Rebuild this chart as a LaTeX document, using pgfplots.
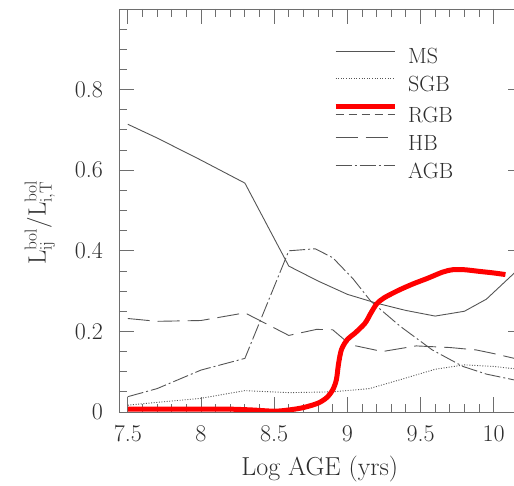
\documentclass[border=0pt]{standalone}
\usepackage{pgfplots}
\pgfplotsset{compat=1.18}
\definecolor{linegray}{RGB}{85,85,85}
\definecolor{axgray}{RGB}{110,110,110}
\definecolor{txt}{RGB}{45,45,45}
\begin{document}
\begin{tikzpicture}
\begin{axis}[
  name=ax,
  scale only axis,
  width=404pt, height=403pt,
  xmin=7.44, xmax=10.2, ymin=0, ymax=1,
  xtick={7.5,8,8.5,9,9.5,10},
  xticklabels={7.5,8,8.5,9,9.5,10},
  minor x tick num=4,
  ytick={0,0.2,0.4,0.6,0.8,1},
  yticklabels={0,0.2,0.4,0.6,0.8,{}},
  minor y tick num=3,
  tick align=inside,
  major tick length=15pt, minor tick length=8pt,
  axis line style={draw=axgray, line width=0.8pt},
  every tick/.style={draw=axgray, line width=0.8pt},
  tick label style={font=\fontsize{24}{24}\selectfont, text=txt, inner sep=0pt},
  xticklabel style={anchor=north, yshift=-13pt},
  yticklabel style={anchor=east, xshift=-16pt},
  xlabel={Log AGE (yrs)},
  xlabel style={font=\fontsize{26}{26}\selectfont, text=txt, at={(axis description cs:0.497,0)}, anchor=base, yshift=-64pt, inner sep=0pt},
  ylabel={$\mathrm{L^{bol}_{ij}\big/L^{bol}_{i,T}}$},
  ylabel style={font=\fontsize{26}{26}\selectfont, text=txt, at={(axis description cs:-0.196,0.47)}, anchor=center, inner sep=0pt},
  legend image code/.code={\draw[#1] (0pt,5pt) -- (59pt,5pt);},
  legend cell align=left,
  legend style={draw=none, fill=none, at={(axis description cs:0.53,0.902)}, anchor=north west,
    inner sep=0pt, outer sep=0pt, font=\fontsize{22}{22}\selectfont, text=txt,
    nodes={inner sep=0pt, text height=15pt, text depth=0pt},
    row sep=12.9pt, column sep=11pt},
]
\addlegendimage{linegray, line width=0.9pt}
\addlegendentry{MS}
\addlegendimage{linegray, line width=0.9pt, dash pattern=on 1pt off 1.6pt}
\addlegendentry{SGB}
\addlegendimage{red, line width=5pt, legend image code/.code={
  \draw[red, line width=5pt] (0pt,8pt) -- (59pt,8pt);
  \draw[linegray, line width=0.9pt, dash pattern=on 8pt off 5pt] (0pt,0pt) -- (59pt,0pt);}}
\addlegendentry{RGB}
\addlegendimage{linegray, line width=0.9pt, dash pattern=on 22pt off 8pt}
\addlegendentry{HB}
\addlegendimage{linegray, line width=0.9pt, dash pattern=on 16pt off 3pt on 2pt off 3pt}
\addlegendentry{AGB}

% MS
\addplot[forget plot, linegray, line width=0.9pt] coordinates {
(7.5,0.714) (7.7,0.680) (8.0,0.625) (8.3,0.568) (8.6,0.362) (8.8,0.325)
(9.0,0.292) (9.2,0.270) (9.4,0.252) (9.6,0.238) (9.8,0.250) (9.95,0.280) (10.2,0.365)};
% SGB
\addplot[forget plot, linegray, line width=0.9pt, dash pattern=on 1pt off 1.6pt] coordinates {
(7.5,0.017) (8.0,0.034) (8.3,0.053) (8.6,0.048) (8.9,0.050) (9.15,0.058)
(9.35,0.079) (9.6,0.106) (9.8,0.117) (10.0,0.113) (10.2,0.105)};
% HB
\addplot[forget plot, linegray, line width=0.9pt, dash pattern=on 22pt off 8pt] coordinates {
(7.5,0.232) (7.7,0.225) (8.0,0.227) (8.3,0.246) (8.6,0.190) (8.79,0.205) (8.9,0.204)
(9.02,0.167) (9.24,0.150) (9.47,0.164) (9.7,0.160) (9.88,0.154) (10.0,0.145) (10.2,0.128)};
% AGB
\addplot[forget plot, linegray, line width=0.9pt, dash pattern=on 16pt off 3pt on 2pt off 3pt] coordinates {
(7.5,0.038) (7.7,0.058) (8.0,0.104) (8.3,0.133) (8.6,0.400) (8.78,0.405) (8.9,0.383)
(9.04,0.330) (9.16,0.275) (9.36,0.213) (9.58,0.154) (9.79,0.113) (9.95,0.094) (10.2,0.075)};
% RGB
\addplot[forget plot, red, line width=5pt, smooth, tension=0.5] coordinates {
(7.5,0.007) (7.8,0.007) (8.0,0.007) (8.2,0.007) (8.35,0.005) (8.5,0.002) (8.6,0.005)
(8.7,0.011) (8.8,0.022) (8.86,0.036) (8.9,0.055) (8.925,0.08) (8.94,0.12) (8.96,0.155)
(9.0,0.18) (9.05,0.195) (9.12,0.22) (9.16,0.245) (9.2,0.268) (9.25,0.283) (9.35,0.302)
(9.45,0.318) (9.55,0.332) (9.65,0.347) (9.72,0.353) (9.8,0.353) (9.9,0.349) (10.0,0.345) (10.08,0.341)};
\end{axis}
\pgfresetboundingbox
\useasboundingbox ([xshift=-119pt,yshift=-74pt]ax.south west) rectangle ([xshift=395pt,yshift=9pt]ax.north west);
\end{tikzpicture}
\end{document}
